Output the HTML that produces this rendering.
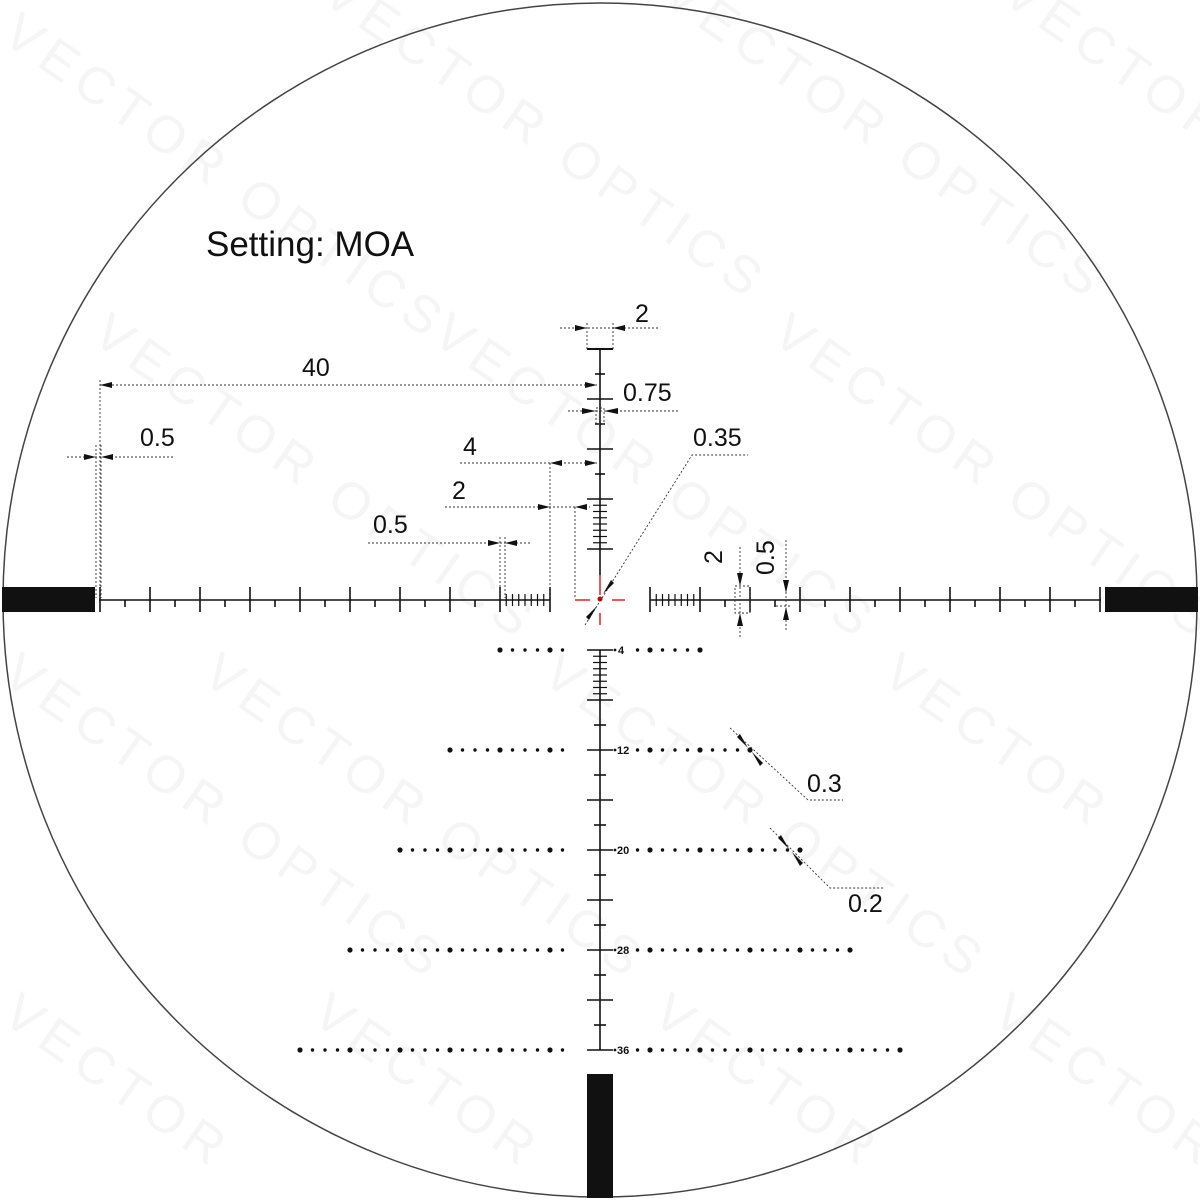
<!DOCTYPE html>
<html><head><meta charset="utf-8"><style>
html,body{margin:0;padding:0;background:#fff;width:1200px;height:1200px;overflow:hidden;}
svg{display:block;overflow:hidden;}
text{font-family:"Liberation Sans",Arial,sans-serif;}
</style></head><body>
<svg id="s" width="1200" height="1200" viewBox="0 0 1200 1200" xmlns="http://www.w3.org/2000/svg">
<rect width="1200" height="1200" fill="#fff"/>
<g fill="#f5f5f5" font-size="52" letter-spacing="8">
<text transform="translate(0,40) rotate(35)">VECTOR OPTICS</text>
<text transform="translate(320,0) rotate(35)">VECTOR OPTICS</text>
<text transform="translate(660,0) rotate(35)">VECTOR OPTICS</text>
<text transform="translate(1000,0) rotate(35)">VECTOR</text>
<text transform="translate(90,340) rotate(35)">VECTOR OPTICS</text>
<text transform="translate(430,340) rotate(35)">VECTOR OPTICS</text>
<text transform="translate(770,340) rotate(35)">VECTOR OPTICS</text>
<text transform="translate(0,680) rotate(35)">VECTOR OPTICS</text>
<text transform="translate(200,680) rotate(35)">VECTOR OPTICS</text>
<text transform="translate(540,680) rotate(35)">VECTOR OPTICS</text>
<text transform="translate(880,680) rotate(35)">VECTOR</text>
<text transform="translate(0,1020) rotate(35)">VECTOR</text>
<text transform="translate(310,1020) rotate(35)">VECTOR</text>
<text transform="translate(650,1020) rotate(35)">VECTOR</text>
<text transform="translate(990,1020) rotate(35)">VECTOR</text>
</g>
<circle cx="600" cy="600" r="597" fill="none" stroke="#444" stroke-width="1.5"/>
<rect x="2" y="587" width="93" height="25" fill="#111"/>
<rect x="1105" y="587" width="93" height="25" fill="#111"/>
<rect x="587" y="1074" width="26" height="124" fill="#111"/>
<g id="ticks" stroke="#111" stroke-width="1.6" fill="none"></g>
<g id="dots" fill="#111"></g>
<g stroke="#d22" stroke-width="1.5">
<line x1="575" y1="600" x2="590" y2="600"/><line x1="612" y1="600" x2="625" y2="600"/>
<line x1="600" y1="575" x2="600" y2="595"/><line x1="600" y1="613" x2="600" y2="625"/>
</g>
<circle cx="600" cy="599" r="2.5" fill="#c00"/>
<g stroke="#333" stroke-width="0.9" stroke-dasharray="2,2" fill="none">
<line x1="100" y1="385" x2="597" y2="385"/><line x1="100" y1="380" x2="100" y2="598"/>
<line x1="67" y1="457" x2="175" y2="457"/><line x1="96" y1="445" x2="96" y2="598"/><line x1="101" y1="445" x2="101" y2="598"/>
<line x1="460" y1="463" x2="597" y2="463"/><line x1="550" y1="463" x2="550" y2="598"/>
<line x1="445" y1="507" x2="590" y2="507"/><line x1="575" y1="507" x2="575" y2="598"/>
<line x1="368" y1="543" x2="530" y2="543"/><line x1="500" y1="537" x2="500" y2="598"/><line x1="505" y1="537" x2="505" y2="598"/>
<line x1="560" y1="328" x2="660" y2="328"/><line x1="587" y1="323" x2="587" y2="349"/><line x1="613" y1="323" x2="613" y2="349"/>
<line x1="568" y1="411" x2="680" y2="411"/><rect x="596" y="408" width="8" height="16"/>
<polyline points="585,625 692,455 748,455"/>
<line x1="740" y1="547" x2="740" y2="638"/><rect x="735" y="586" width="15" height="27"/>
<line x1="786" y1="540" x2="786" y2="632"/><line x1="776" y1="606" x2="792" y2="606"/>
<polyline points="730,728 808,800 843,800"/>
<polyline points="770,828 830,888 885,888"/>
</g>
<g fill="#111">
<polygon points="100,385 112,382 112,388"/><polygon points="597,385 585,382 585,388"/>
<polygon points="96,457 84,454 84,460"/><polygon points="101,457 113,454 113,460"/>
<polygon points="550,463 562,460 562,466"/><polygon points="597,463 585,460 585,466"/>
<polygon points="550,507 538,504 538,510"/><polygon points="575,507 587,504 587,510"/>
<polygon points="500,543 488,540 488,546"/><polygon points="505,543 517,540 517,546"/>
<polygon points="587,328 575,325 575,331"/><polygon points="613,328 625,325 625,331"/>
<polygon points="596,411 582,408 582,414"/><polygon points="604,411 618,408 618,414"/>
<polygon points="740,586 737,573 743,573"/><polygon points="740,613 737,626 743,626"/>
<polygon points="786,593 783,580 789,580"/><polygon points="786,607 783,620 789,620"/>
<polygon points="603,594 611,580 614,583"/><polygon points="597,606 589,620 586,617"/>
<polygon points="748,748 737,737 740,734"/><polygon points="752,752 763,763 760,766"/>
<polygon points="789,849 778,838 781,835"/><polygon points="792,852 803,863 800,866"/>
</g>
<g font-size="25" fill="#111">
<text x="206" y="256" font-size="35">Setting: MOA</text>
<text x="302" y="376">40</text>
<text x="140" y="446">0.5</text>
<text x="463" y="455">4</text>
<text x="452" y="499">2</text>
<text x="373" y="533">0.5</text>
<text x="635" y="322">2</text>
<text x="623" y="401">0.75</text>
<text x="693" y="446">0.35</text>
<text transform="translate(722,564) rotate(-90)">2</text>
<text transform="translate(774,575) rotate(-90)">0.5</text>
<text x="807" y="792">0.3</text>
<text x="848" y="912">0.2</text>
</g>
<g font-size="11" font-weight="bold" fill="#111">
<text x="618" y="654">4</text>
<text x="617" y="754">12</text>
<text x="617" y="854">20</text>
<text x="617" y="954">28</text>
<text x="617" y="1054">36</text>
</g>
</svg>
<script>
var NS="http://www.w3.org/2000/svg",T=document.getElementById('ticks'),D=document.getElementById('dots');
function L(a,b,c,d,w){var e=document.createElementNS(NS,'line');e.setAttribute('x1',a);e.setAttribute('y1',b);e.setAttribute('x2',c);e.setAttribute('y2',d);if(w)e.setAttribute('stroke-width',w);T.appendChild(e);}
L(99,600,550,600);L(650,600,1101,600);
for(var x=100;x<=500;x+=50){L(x,587,x,612);if(x<500)L(x+25,600,x+25,607);}
for(var i=1;i<8;i++){var x=500+i*6.25;L(x,594,x,606,1.2);}L(550,587,550,612);
L(650,587,650,612);for(var i=1;i<8;i++){var x=650+i*6.25;L(x,594,x,606,1.2);}
for(var x=700;x<=1100;x+=50){L(x,587,x,612);if(x<1100)L(x+25,600,x+25,607);}
L(600,349,600,575);L(587,349,613,349,2);
[374,424,474].forEach(function(y){L(595,y,605,y);});
[399,449,499,549].forEach(function(y){L(587,y,613,y);});
for(var i=1;i<8;i++){var y=499+i*6.25;L(593,y,607,y,1.2);}
L(600,650,600,1050);
for(var y=650;y<=1050;y+=50){L(587,y,613,y);if(y>650&&y<1050)L(594,y+25,606,y+25);}
for(var i=1;i<8;i++){var y=650+i*6.25;L(593,y,607,y,1.2);}
function dot(x,y,r){var c=document.createElementNS(NS,'circle');c.setAttribute('cx',x);c.setAttribute('cy',y);c.setAttribute('r',r);D.appendChild(c);}
[[650,100],[750,150],[850,200],[950,250],[1050,300]].forEach(function(p){
 var y=p[0],ext=p[1];
 for(var d=37.5;d<=ext+0.1;d+=12.5){var big=(Math.abs((d%50))<0.1);var r=big?2.6:1.7;dot(600-d,y,r);dot(600+d,y,r);}
 dot(615,y,1.4);
});
</script>
</body></html>
